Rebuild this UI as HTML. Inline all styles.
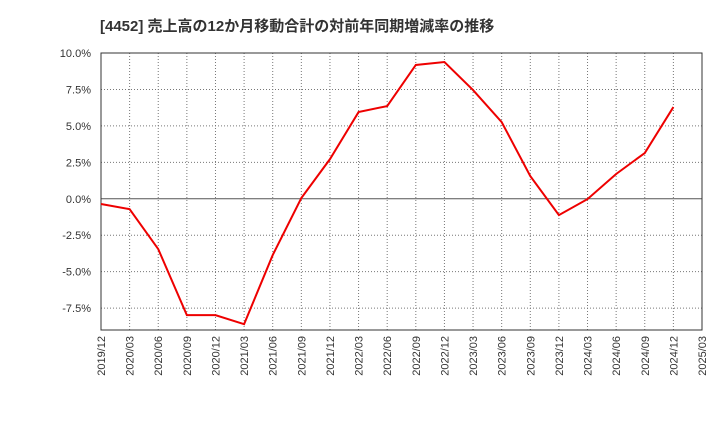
<!DOCTYPE html>
<html><head><meta charset="utf-8"><style>
body{margin:0;background:#fff;}
svg text{font-family:"Liberation Sans","Noto Sans CJK JP",sans-serif;}
</style></head><body>
<svg id="chart" width="720" height="440">
<text x="100" y="31" font-size="15" font-weight="bold" fill="#333">[4452]  売上高の12か月移動合計の対前年同期増減率の推移</text>
<g id="grid"></g><g id="ylabels"></g><g id="xlabels"></g>
<rect x="101" y="53" width="601" height="277" fill="none" stroke="#333"/>
<polyline id="line" fill="none" stroke="#ee0000" stroke-width="2"/>
</svg>
<script>
const categories=["2019/12","2020/03","2020/06","2020/09","2020/12","2021/03","2021/06","2021/09","2021/12","2022/03","2022/06","2022/09","2022/12","2023/03","2023/06","2023/09","2023/12","2024/03","2024/06","2024/09","2024/12","2025/03"];
const values=[-0.36,-0.71,-3.45,-7.98,-7.98,-8.6,-3.86,0.05,2.72,5.95,6.36,9.18,9.38,7.46,5.26,1.56,-1.12,-0.02,1.7,3.14,6.29];
const yTicks=[10,7.5,5,2.5,0,-2.5,-5,-7.5];
const yTickLabels=["10.0%","7.5%","5.0%","2.5%","0.0%","-2.5%","-5.0%","-7.5%"];
const L=101,R=702,T=53,B=330,ymax=10,ymin=-9;
const xs=i=>L+(R-L)*i/(categories.length-1);
const ys=v=>T+(ymax-v)/(ymax-ymin)*(B-T);
const NS="http://www.w3.org/2000/svg";
const grid=document.getElementById('grid'),yl=document.getElementById('ylabels'),xl=document.getElementById('xlabels');
categories.forEach((c,i)=>{
  const ln=document.createElementNS(NS,'line');
  
  
  ln.setAttribute('x1',xs(i));ln.setAttribute('x2',xs(i));ln.setAttribute('y1',T);ln.setAttribute('y2',B);
  ln.setAttribute('stroke','#777');ln.setAttribute('stroke-dasharray','1,2');
  grid.appendChild(ln);
  const t=document.createElementNS(NS,'text');
  
  
  const x=xs(i)+4,y=336;
  t.setAttribute('transform',`translate(${x},${y}) rotate(-90)`);
  t.setAttribute('text-anchor','end');t.setAttribute('font-size','11');t.setAttribute('fill','#333');
  t.textContent=c;xl.appendChild(t);
});
yTicks.forEach((v,i)=>{
  const ln=document.createElementNS(NS,'line');
  
  
  ln.setAttribute('x1',L);ln.setAttribute('x2',R);ln.setAttribute('y1',ys(v));ln.setAttribute('y2',ys(v));
  if(v===0){ln.setAttribute('stroke','#555');}else{ln.setAttribute('stroke','#777');ln.setAttribute('stroke-dasharray','1,2');}
  grid.appendChild(ln);
  const t=document.createElementNS(NS,'text');
  
  
  t.setAttribute('x',91);t.setAttribute('y',ys(v)+4);t.setAttribute('text-anchor','end');
  t.setAttribute('font-size','11');t.setAttribute('fill','#333');
  t.textContent=yTickLabels[i];yl.appendChild(t);
});
document.getElementById('line').setAttribute('points',values.map((v,i)=>xs(i)+','+ys(v)).join(' '));
</script>
</body></html>
